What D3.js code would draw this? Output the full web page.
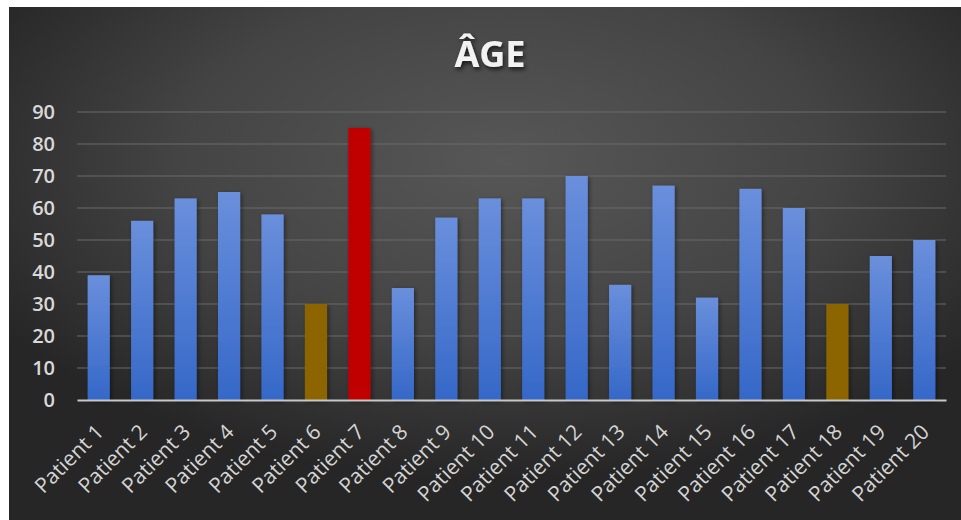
<!DOCTYPE html>
<html>
<head>
<meta charset="utf-8">
<script src="https://cdn.jsdelivr.net/npm/d3@7/dist/d3.min.js"></script>
<style>
  html, body { margin: 0; padding: 0; background: #ffffff; }
  svg { display: block; }
</style>
</head>
<body>
<svg id="chart" width="961" height="520"></svg>
<script>
// Patient ages
const patients = ["Patient 1","Patient 2","Patient 3","Patient 4","Patient 5","Patient 6","Patient 7","Patient 8","Patient 9","Patient 10",
                  "Patient 11","Patient 12","Patient 13","Patient 14","Patient 15","Patient 16","Patient 17","Patient 18","Patient 19","Patient 20"];
const ages = [39, 56, 63, 65, 58, 30, 85, 35, 57, 63, 63, 70, 36, 67, 32, 66, 60, 30, 45, 50];
// Highlight group per bar: "normal", "low" (gold) or "high" (red)
const groups = ["normal","normal","normal","normal","normal","low","high","normal","normal","normal",
                "normal","normal","normal","normal","normal","normal","normal","low","normal","normal"];
const yTicks = [0, 10, 20, 30, 40, 50, 60, 70, 80, 90];
const title = "ÂGE";

const svg = d3.select("#chart");
const W = 961, H = 520;
const frame = { x: 9, y: 7 };
const margin = { left: 77, right: 15, top: 112, bottom: 120 };

const defs = svg.append("defs");

// dark panel background
const bg = defs.append("radialGradient").attr("id", "bgGrad")
  .attr("cx", "52%").attr("cy", "30%").attr("r", "62%");
bg.append("stop").attr("offset", "0%").attr("stop-color", "#575757");
bg.append("stop").attr("offset", "55%").attr("stop-color", "#444444");
bg.append("stop").attr("offset", "100%").attr("stop-color", "#262626");

const blue = defs.append("linearGradient").attr("id", "blueGrad")
  .attr("x1", 0).attr("y1", 0).attr("x2", 0).attr("y2", 1);
blue.append("stop").attr("offset", "0%").attr("stop-color", "#6a8fdc");
blue.append("stop").attr("offset", "100%").attr("stop-color", "#3568c8");

const shadow = defs.append("filter").attr("id", "shadow")
  .attr("x", "-30%").attr("y", "-10%").attr("width", "160%").attr("height", "130%");
shadow.append("feDropShadow").attr("dx", 1.5).attr("dy", 1.5).attr("stdDeviation", 2)
  .attr("flood-color", "#000").attr("flood-opacity", 0.45);

const tshadow = defs.append("filter").attr("id", "tshadow")
  .attr("x", "-20%").attr("y", "-20%").attr("width", "140%").attr("height", "160%");
tshadow.append("feDropShadow").attr("dx", 1.5).attr("dy", 2.5).attr("stdDeviation", 2)
  .attr("flood-color", "#000").attr("flood-opacity", 0.7);

svg.append("rect").attr("x", frame.x).attr("y", frame.y)
  .attr("width", W - frame.x).attr("height", H - frame.y)
  .attr("fill", "url(#bgGrad)");

const x = d3.scaleBand().domain(patients)
  .range([margin.left, W - margin.right]).paddingInner(0.49).paddingOuter(0.245);
const y = d3.scaleLinear().domain([0, 90]).range([H - margin.bottom, margin.top]);

// gridlines
svg.append("g").selectAll("line").data(yTicks.filter(d => d > 0)).join("line")
  .attr("x1", margin.left).attr("x2", W - margin.right)
  .attr("y1", d => y(d)).attr("y2", d => y(d))
  .attr("stroke", "#6b6b6b").attr("stroke-width", 1.2);

// y axis labels
const yAxis = d3.axisLeft(y).tickValues(yTicks).tickSize(0).tickPadding(22);
const gy = svg.append("g").attr("transform", `translate(${margin.left},0)`).call(yAxis);
gy.select(".domain").remove();
gy.selectAll("text")
  .attr("fill", "#d9d9d9")
  .style("font-family", "'Open Sans', sans-serif")
  .style("font-size", "20px").style("font-weight", "600");

// bars
const fillFor = g => g === "high" ? "#c00000" : g === "low" ? "#8c6500" : "url(#blueGrad)";
svg.append("g").selectAll("rect").data(patients).join("rect")
  .attr("x", d => x(d))
  .attr("y", (d, i) => y(ages[i]))
  .attr("width", x.bandwidth())
  .attr("height", (d, i) => y(0) - y(ages[i]))
  .attr("fill", (d, i) => fillFor(groups[i]))
  .attr("filter", "url(#shadow)");

// x axis with slanted category labels
const xAxis = d3.axisBottom(x).tickSize(0);
const gx = svg.append("g").attr("transform", `translate(0,${y(0)})`).call(xAxis);
gx.select(".domain").attr("stroke", "#c8c8c8").attr("stroke-width", 2);
gx.selectAll(".tick text")
  .attr("x", 0).attr("y", 0)
  .attr("fill", "#d4d4d4")
  .style("font-family", "'Open Sans', sans-serif")
  .style("font-size", "21px")
  .attr("text-anchor", "end")
  .attr("dy", "0.35em")
  .attr("transform", "translate(1,28) rotate(-45)");

// title
svg.append("text")
  .attr("x", 490).attr("y", 67)
  .attr("text-anchor", "middle")
  .attr("fill", "#f2f2f2")
  .attr("filter", "url(#tshadow)")
  .style("font-family", "'Open Sans', sans-serif")
  .style("font-size", "36px").style("font-weight", "700")
  .text(title);
</script>
</body>
</html>
